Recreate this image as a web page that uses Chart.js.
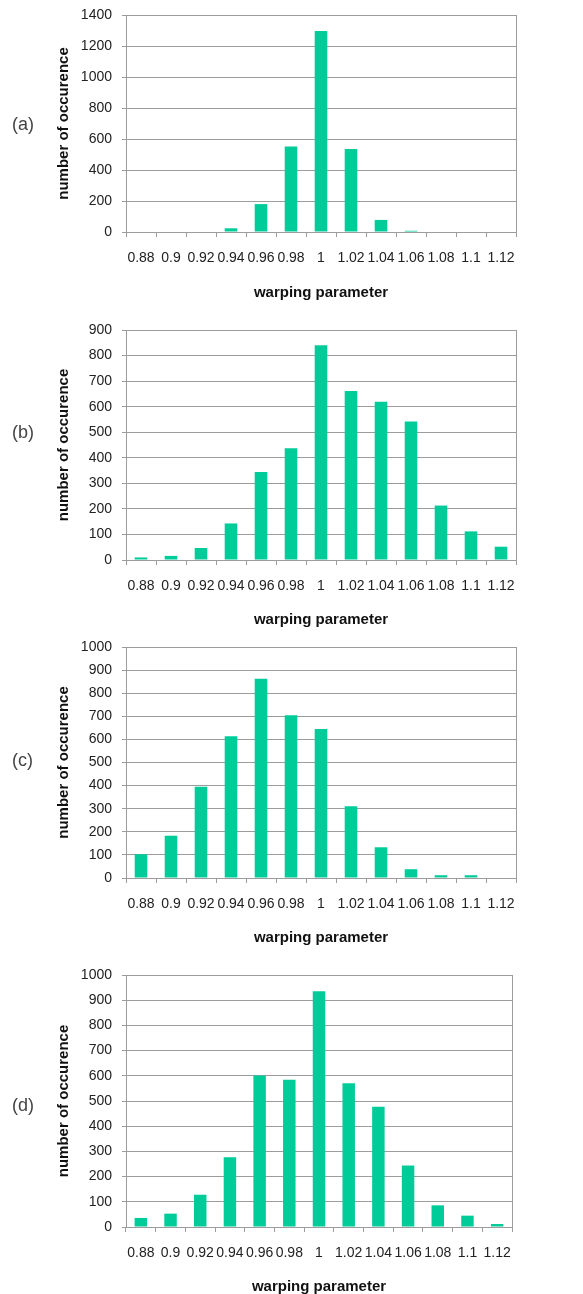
<!DOCTYPE html>
<html>
<head>
<meta charset="utf-8">
<script src="https://cdn.jsdelivr.net/npm/chart.js@4.4.0/dist/chart.umd.min.js"></script>
<style>
body{margin:0;background:#fff;}
#page{position:relative;width:583px;height:1294px;overflow:hidden;background:#fff;}
.panel{position:absolute;left:0;}
.tag{position:absolute;left:12px;font:18px 'Liberation Sans',Arial,sans-serif;color:#444;transform:translateY(-50%);}
</style>
</head>
<body>
<div id="page"></div>
<script>
var warpLabels = ['0.88','0.9','0.92','0.94','0.96','0.98','1','1.02','1.04','1.06','1.08','1.1','1.12'];
var countsA = [0, 0, 0, 24, 180, 552, 1297, 536, 78, 8, 0, 0, 0];
var countsB = [10, 16, 47, 143, 344, 437, 840, 661, 619, 542, 213, 112, 52];
var countsC = [103, 183, 395, 614, 863, 705, 645, 311, 133, 38, 12, 12, 0];
var countsD = [36, 53, 128, 277, 601, 584, 936, 570, 477, 244, 86, 45, 12];
var panelTags = ['(a)', '(b)', '(c)', '(d)'];
var yMaxes = [1400, 900, 1000, 1000];
var ySteps = [200, 100, 100, 100];
var panelCounts = [countsA, countsB, countsC, countsD];

// where each panel sits on the page (px); last one runs past the page bottom and gets clipped
var layouts = [
      {top:0,   height:320, plotTop:15,  plotBottom:232,  right:516, titleY:291,  tagY:124},
      {top:320, height:320, plotTop:330, plotBottom:560,  right:516, titleY:618,  tagY:432},
      {top:640, height:320, plotTop:647, plotBottom:878,  right:516, titleY:936,  tagY:760},
      {top:960, height:345, plotTop:975, plotBottom:1227, right:512, titleY:1285, tagY:1105}
];

var gridColor = '#9c9c9c';
var fontFamily = "'Liberation Sans', Arial, sans-serif";
var page = document.getElementById('page');

layouts.forEach(function(L, i){
      var wrap = document.createElement('div');
      wrap.className = 'panel';
      wrap.style.top = L.top + 'px';
      var cv = document.createElement('canvas');
      cv.width = 583;
      cv.height = L.height;
      cv.style.width = '583px';
      cv.style.height = L.height + 'px';
      wrap.appendChild(cv);
      page.appendChild(wrap);

      var tag = document.createElement('div');
      tag.className = 'tag';
      tag.style.top = L.tagY + 'px';
      tag.textContent = panelTags[i];
      page.appendChild(tag);

      var axisH = L.top + L.height - L.plotBottom;
      var titlePad = L.top + L.height - 11 - L.titleY;
      if (titlePad < 0) titlePad = 0;

      new Chart(cv, {
            type: 'bar',
            data: {
                  labels: warpLabels,
                  datasets: [{
                        data: panelCounts[i],
                        backgroundColor: '#00cc99',
                        borderWidth: 0,
                        barPercentage: 0.42,
                        categoryPercentage: 1
                  }]
            },
            options: {
                  responsive: false,
                  animation: false,
                  devicePixelRatio: 1,
                  layout: {padding: {left: 45, right: 583 - L.right, top: L.plotTop - L.top, bottom: 0}},
                  plugins: {legend: {display: false}, tooltip: {enabled: false}},
                  scales: {
                        x: {
                              grid: {offset: true, drawOnChartArea: false, tickLength: 5, color: gridColor},
                              border: {color: gridColor},
                              ticks: {font: {family: fontFamily, size: 14}, color: '#222', padding: 13, maxRotation: 0, autoSkip: false},
                              title: {display: true, text: 'warping parameter', color: '#111',
                                    font: {family: fontFamily, size: 15, weight: 'bold'}, padding: {top: 0, bottom: titlePad}},
                              afterFit: function(s){ s.height = axisH; s.paddingLeft = 0; s.paddingRight = 0; }
                        },
                        y: {
                              min: 0,
                              max: yMaxes[i],
                              ticks: {stepSize: ySteps[i], padding: 10, font: {family: fontFamily, size: 14}, color: '#222',
                                    format: {useGrouping: false}},
                              grid: {color: gridColor, tickLength: 4},
                              border: {color: gridColor},
                              title: {display: true, text: 'number of occurence', color: '#111',
                                    font: {family: fontFamily, size: 15, weight: 'bold'}, padding: {top: 10, bottom: 0}},
                              afterFit: function(s){ s.width = 81; s.paddingTop = 0; s.paddingBottom = 0; }
                        },
                        y2: {
                              position: 'right',
                              grid: {drawOnChartArea: false, drawTicks: false},
                              ticks: {display: false},
                              border: {color: gridColor},
                              afterFit: function(s){ s.width = 0; s.paddingTop = 0; s.paddingBottom = 0; }
                        }
                  }
            }
      });
});
</script>
</body>
</html>
